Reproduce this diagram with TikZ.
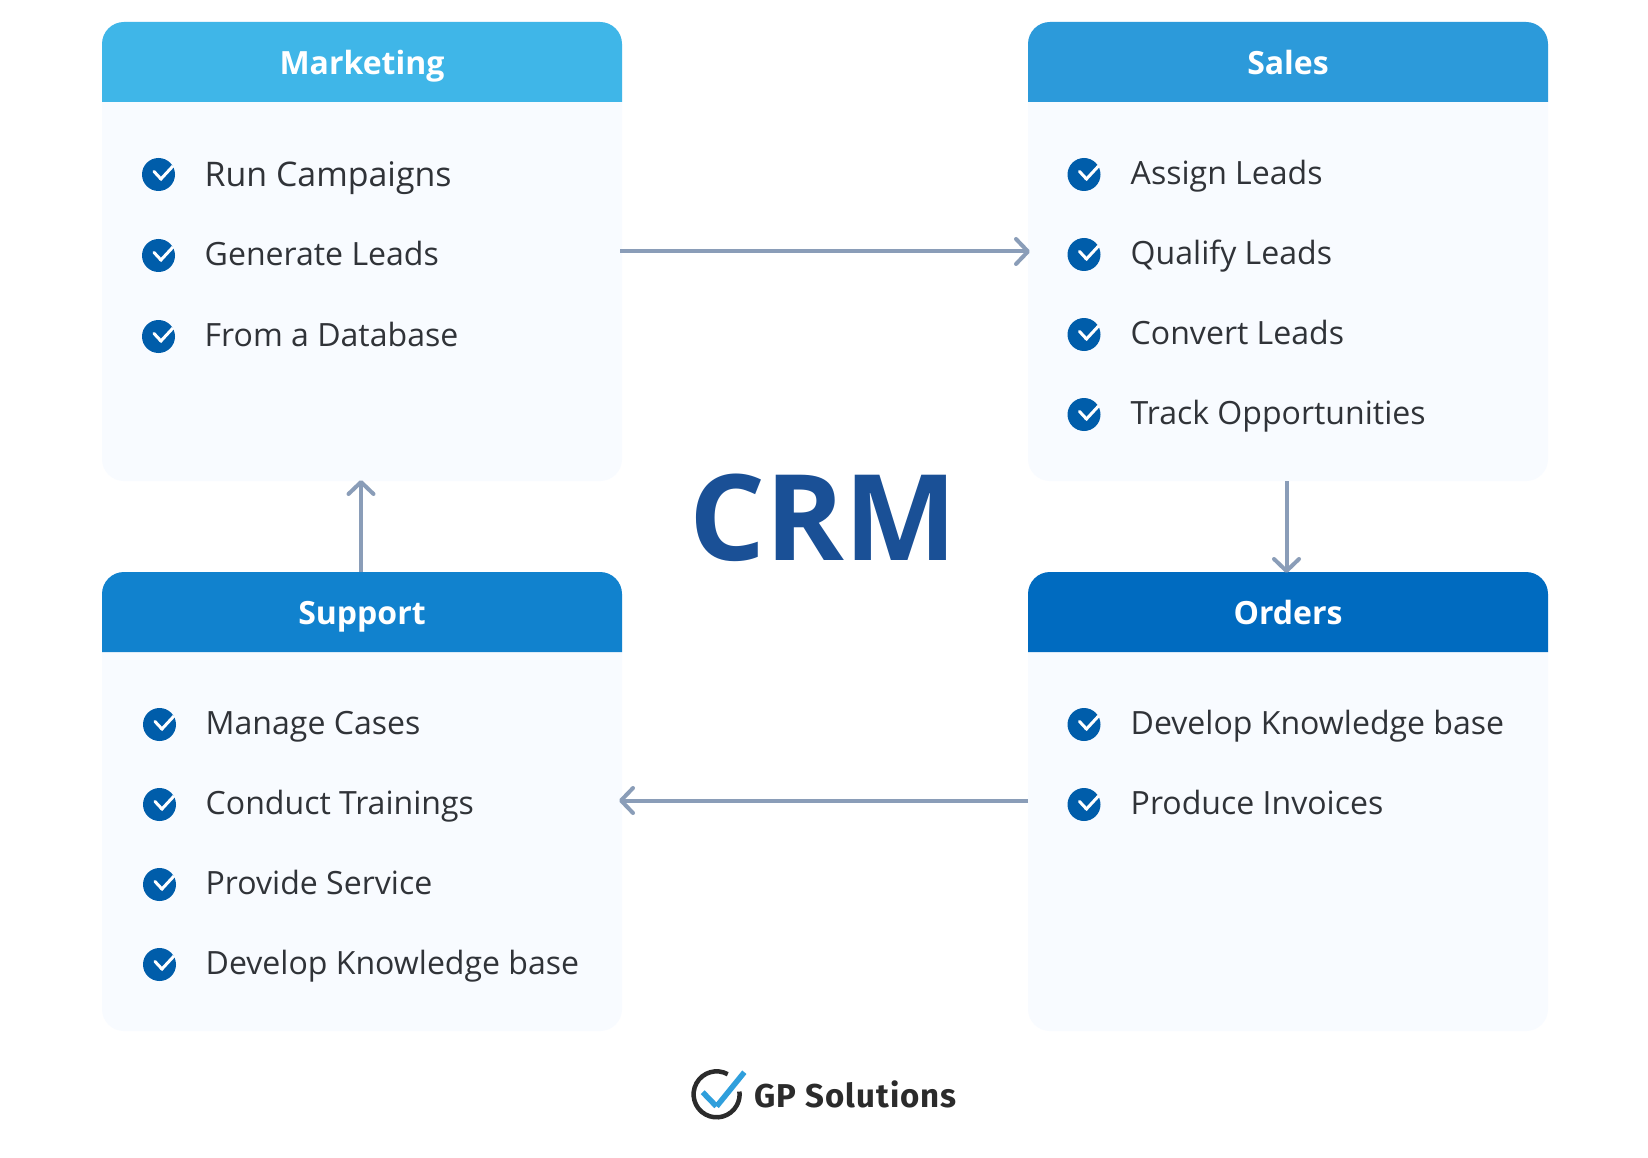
\documentclass[tikz,border=0pt]{standalone}
\usepackage{fontspec}
\setmainfont{Open Sans}
\newfontfamily\logofont[LetterSpace=3.2]{Fira Sans}
\usetikzlibrary{arrows.meta}
\definecolor{bodyfill}{HTML}{F8FBFF}
\definecolor{mktblue}{HTML}{3FB6E8}
\definecolor{salblue}{HTML}{2C9ADA}
\definecolor{supblue}{HTML}{1182CE}
\definecolor{ordblue}{HTML}{006BC0}
\definecolor{flowgrey}{HTML}{8A9DB8}
\definecolor{tickblue}{HTML}{005DAA}
\definecolor{crmblue}{HTML}{1A5096}
\definecolor{inktext}{HTML}{303338}
\definecolor{logoink}{HTML}{2B2B2B}
\definecolor{logotick}{HTML}{2F9FDC}
\tikzset{
  x=1pt, y=-1pt,
  panelbody/.style={fill=bodyfill, rounded corners=22pt, minimum width=520pt, minimum height=459pt, inner sep=0pt, outer sep=0pt},
  paneltitle/.style={text=white, font=\fontsize{32}{38}\selectfont\bfseries, anchor=base, inner sep=0pt},
  itemtext/.style={text=inktext, font=\fontsize{32.05}{40}\selectfont, anchor=base west, inner sep=0pt},
  tickdisc/.style={circle, fill=tickblue, minimum size=33pt, inner sep=0pt},
  ticksign/.style={draw=white, line width=3pt},
  flow/.style={draw=flowgrey, line width=4pt, -{Straight Barb[length=12pt,width=25pt,line width=4pt,round]}},
}
% panel: name, left x, top y, header colour, title, title baseline offset
\newcommand{\crmpanel}[6]{%
  \node[panelbody] (#1) at (#2+260,#3+229.5) {};
  \fill[#4] (#2,#3+80) [rounded corners=22pt] -- (#2,#3) -- (#2+520,#3) [sharp corners] -- (#2+520,#3+80) -- cycle;
  \node[paneltitle] (#1title) at (#2+260,#3+#6) {#5};
}
% list row: [extra text style] name, disc x, text x, centre y, label
\newcommand{\crmitem}[6][]{%
  \node[tickdisc] (#2disc) at (#3,#5+1) {};
  \draw[ticksign, line cap=round] (#3-4.5,#5-2) -- (#3+2.5,#5+5.5);
  \draw[ticksign, line cap=butt] (#3+1.5,#5+6.5) -- (#3+14.5,#5-7.5);
  \node[itemtext,#1] (#2text) at (#4,#5+11) {#6};
}
\begin{document}
\begin{tikzpicture}
\useasboundingbox (0,0) rectangle (1648,1158);
\fill[white] (0,0) rectangle (1648,1158);

\crmpanel{mkt}{102}{22}{mktblue}{Marketing}{53}
\crmpanel{sal}{1028}{22}{salblue}{Sales}{53}
\crmpanel{sup}{102}{572}{supblue}{Support}{52}
\crmpanel{ord}{1028}{572}{ordblue}{Orders}{52}

\crmitem[font=\fontsize{33.9}{40}\selectfont, yshift=-2pt]{mktA}{158.5}{204.5}{173.5}{Run Campaigns}
\crmitem{mktB}{158.5}{204.5}{254.5}{Generate Leads}
\crmitem{mktC}{158.5}{204.5}{335.5}{From a Database}

\crmitem{salA}{1084}{1130.5}{173.5}{Assign Leads}
\crmitem{salB}{1084}{1130.5}{253.5}{Qualify Leads}
\crmitem{salC}{1084}{1130.5}{333.5}{Convert Leads}
\crmitem{salD}{1084}{1130.5}{413.5}{Track Opportunities}

\crmitem{supA}{159.5}{205.5}{723.5}{Manage Cases}
\crmitem{supB}{159.5}{205.5}{803.5}{Conduct Trainings}
\crmitem{supC}{159.5}{205.5}{883.5}{Provide Service}
\crmitem{supD}{159.5}{205.5}{963.5}{Develop Knowledge base}

\crmitem{ordA}{1084}{1130.5}{723.5}{Develop Knowledge base}
\crmitem{ordB}{1084}{1130.5}{803.5}{Produce Invoices}

\node[text=crmblue, font=\fontsize{119.5}{130}\selectfont\bfseries, anchor=base, inner sep=0pt] (crm) at (823.5,560) {CRM};

% the four hand-offs between departments
\coordinate (rowtop) at (0,251.5);
\coordinate (rowlow) at (0,800.5);
\coordinate (colleft) at (361,0);
\coordinate (colright) at (1286.5,0);
\draw[flow, shorten <=-2pt, shorten >=-2pt] (mkt.east |- rowtop) -- (sal.west |- rowtop);
\draw[flow, shorten >=-1pt] (sal.south -| colright) -- (ord.north -| colright);
\draw[flow, shorten >=-3pt] (ord.west |- rowlow) -- (sup.east |- rowlow);
\draw[flow, shorten >=-1pt] (sup.north -| colleft) -- (mkt.south -| colleft);

% logo mark and wordmark
\node[circle, minimum size=46pt, inner sep=0pt] (logoring) at (716.5,1094.5) {};
\draw[logoink, line width=4.5pt] (logoring.61) arc[start angle=61, end angle=367, radius=23pt];
\node[inner sep=0pt, minimum size=0pt] (logotip) at (744.5,1072) {};
\node[inner sep=0pt, minimum size=0pt] (logoelbow) at (716.5,1106.5) {};
\node[inner sep=0pt, minimum size=0pt] (logostart) at (702.5,1092) {};
\draw[logotick, line width=5.5pt] (logostart) -- (logoelbow) -- (logotip);
\node[text=logoink, font=\logofont\fontsize{33}{38}\selectfont\bfseries, anchor=base west, inner sep=0pt] (logoword) at (754,1107) {GP Solutions};
\end{tikzpicture}
\end{document}
